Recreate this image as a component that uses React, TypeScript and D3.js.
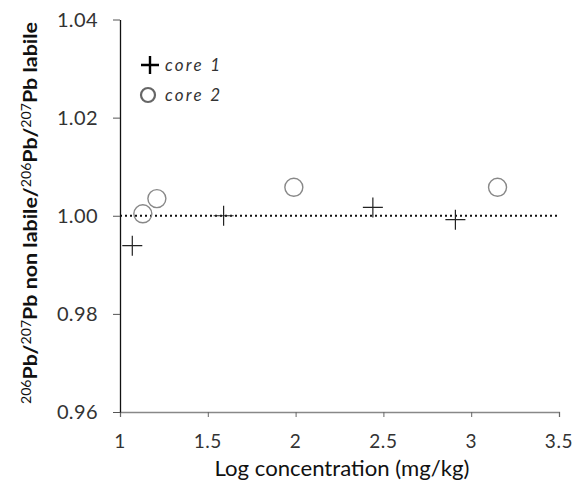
import React, { useEffect, useRef } from 'react'
import * as d3 from 'd3'

// values
const core1X = [1.07, 1.59, 2.44, 2.91]
const core1Y = [0.9939, 1.0000, 1.0017, 0.9992]
const core2X = [1.13, 1.21, 1.99, 3.15]
const core2Y = [1.0004, 1.0035, 1.0058, 1.0058]
const xTicks = [1, 1.5, 2, 2.5, 3, 3.5]
const yTicks = [0.96, 0.98, 1.0, 1.02, 1.04]
const refLine = 1.0

const W = 580
const H = 494
const FONT = 'Lato, "Open Sans", sans-serif'

export default function App() {
  const ref = useRef<SVGSVGElement>(null)

  useEffect(() => {
    const svg = d3.select(ref.current)
    svg.selectAll('*').remove()

    const x = d3.scaleLinear().domain([1, 3.5]).range([120, 559])
    const y = d3.scaleLinear().domain([0.96, 1.04]).range([412, 19.5])

    // axes (lines and ticks only, labels drawn below)
    const xAxis = svg.append('g')
      .attr('transform', `translate(0,${y(0.96)})`)
      .call(d3.axisBottom(x).tickValues(xTicks).tickSize(5).tickFormat(() => ''))
    xAxis.select('.domain').attr('stroke', '#888').attr('stroke-width', 1.3)
    xAxis.selectAll('line').attr('stroke', '#666')

    const yAxis = svg.append('g')
      .attr('transform', `translate(${x(1)},0)`)
      .call(d3.axisLeft(y).tickValues(yTicks).tickSize(7).tickSizeOuter(0).tickFormat(() => ''))
    yAxis.select('.domain').attr('stroke', '#111').attr('stroke-width', 1.3)
    yAxis.selectAll('line').attr('stroke', '#555')

    svg.append('g').selectAll('text')
      .data(xTicks)
      .join('text')
      .attr('x', d => x(d)).attr('y', 448)
      .attr('text-anchor', 'middle')
      .style('font-family', FONT).style('font-size', '19px')
      .style('letter-spacing', '0.6px')
      .attr('fill', '#333')
      .text(d => d3.format('')(d))

    svg.append('g').selectAll('text')
      .data(yTicks)
      .join('text')
      .attr('x', 98).attr('y', d => y(d) + 7)
      .attr('text-anchor', 'end')
      .style('font-family', FONT).style('font-size', '20px')
      .style('letter-spacing', '0.4px')
      .attr('fill', '#333')
      .text(d => d3.format('.2f')(d))

    // dotted reference line
    svg.append('line')
      .attr('x1', x(1)).attr('x2', x(3.5))
      .attr('y1', y(refLine)).attr('y2', y(refLine))
      .attr('stroke', '#111').attr('stroke-width', 2)
      .attr('stroke-dasharray', '2,3')

    // core 2 circles
    svg.append('g').selectAll('circle')
      .data(core2X.map((d, i) => [d, core2Y[i]]))
      .join('circle')
      .attr('cx', d => x(d[0])).attr('cy', d => y(d[1]))
      .attr('r', 9).attr('fill', 'none')
      .attr('stroke', '#888').attr('stroke-width', 1.4)

    // core 1 plus marks
    const s = 10
    svg.append('g').selectAll('path')
      .data(core1X.map((d, i) => [d, core1Y[i]]))
      .join('path')
      .attr('d', d => `M${x(d[0]) - s},${y(d[1])}H${x(d[0]) + s}M${x(d[0])},${y(d[1]) - s}V${y(d[1]) + s}`)
      .attr('stroke', '#222').attr('stroke-width', 1.2).attr('fill', 'none')

    // legend
    const leg = svg.append('g').style('font-family', FONT).style('font-style', 'italic')
      .style('font-size', '17px').attr('fill', '#333')
    leg.append('path').attr('d', 'M141,65H159M150,56V74').attr('stroke', '#000').attr('stroke-width', 2.4)
    leg.append('text').attr('x', 165).attr('y', 71).attr('textLength', 55).text('core 1')
    leg.append('circle').attr('cx', 148).attr('cy', 95).attr('r', 7)
      .attr('fill', 'none').attr('stroke', '#666').attr('stroke-width', 2.2)
    leg.append('text').attr('x', 165).attr('y', 101).attr('textLength', 55).text('core 2')

    // x title
    svg.append('text')
      .attr('x', 342).attr('y', 476)
      .attr('text-anchor', 'middle')
      .style('font-family', FONT).style('font-size', '21px').attr('fill', '#111')
      .attr('textLength', 255).attr('lengthAdjust', 'spacingAndGlyphs')
      .text('Log concentration (mg/kg)')

    // y title with superscripts
    const yt = svg.append('text')
      .attr('transform', `translate(37,213) rotate(-90)`)
      .attr('text-anchor', 'middle')
      .style('font-family', FONT).style('font-size', '19px').style('font-weight', 'bold').attr('fill', '#111')
      .attr('textLength', 382).attr('lengthAdjust', 'spacingAndGlyphs')
    const parts: [string, boolean][] = [
      ['206', true], ['Pb/', false], ['207', true], ['Pb non labile/', false],
      ['206', true], ['Pb/', false], ['207', true], ['Pb labile', false],
    ]
    parts.forEach(([t, sup]) => {
      yt.append('tspan')
        .style('font-size', sup ? '12.5px' : '19px')
        .style('font-weight', sup ? 'normal' : 'bold')
        .attr('baseline-shift', sup ? '45%' : '0')
        .text(t)
    })
  }, [])

  return (
    <svg ref={ref} width={W} height={H}
      style={{ position: 'absolute', left: 0, top: 0, background: '#fff' }} />
  )
}
